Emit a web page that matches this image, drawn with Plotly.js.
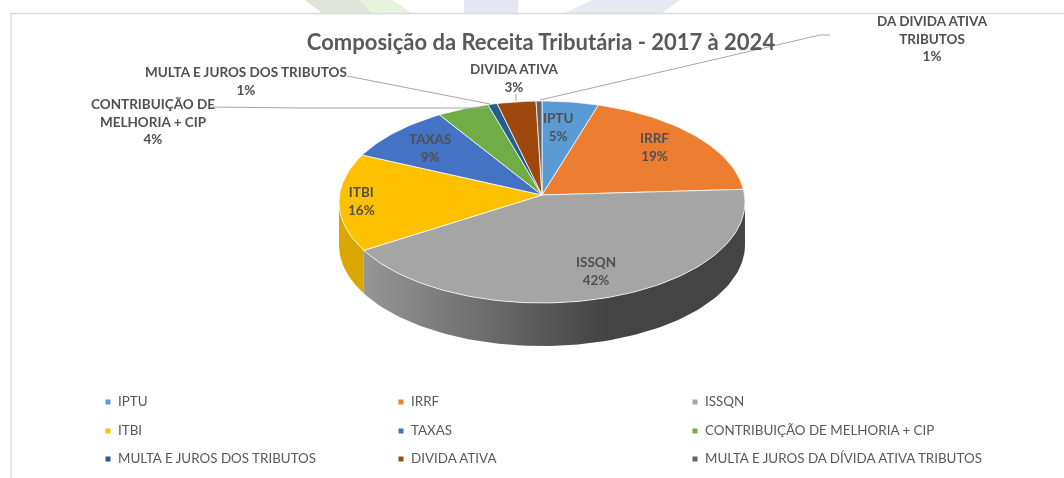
<!DOCTYPE html>
<html>
<head>
<meta charset="utf-8">
<script src="https://cdn.plot.ly/plotly-3.0.1.min.js"></script>
<style>
html,body{margin:0;padding:0;background:#fff;overflow:hidden}
#chart{width:1064px;height:478px;filter:blur(0.45px)}
</style>
</head>
<body>
<div id="chart"></div>
<script>
// ---- data ----
const categories = ["IPTU","IRRF","ISSQN","ITBI","TAXAS","CONTRIBUIÇÃO DE MELHORIA + CIP","MULTA E JUROS DOS TRIBUTOS","DIVIDA ATIVA","MULTA E JUROS DA DÍVIDA ATIVA TRIBUTOS"];
const values = [4.8,19.3,42.0,15.6,9.3,4.4,0.8,3.3,0.5];
const percentLabels = ["5%","19%","42%","16%","9%","4%","1%","3%","1%"];
const labelNames = ["IPTU","IRRF","ISSQN","ITBI","TAXAS","CONTRIBUIÇÃO DE<br>MELHORIA + CIP","MULTA E JUROS DOS TRIBUTOS","DIVIDA ATIVA","DA DIVIDA ATIVA<br>TRIBUTOS"];
const colors = ["#5b9bd5","#ed7d31","#a5a5a5","#ffc000","#4472c4","#70ad47","#255e91","#9e480e","#636363"];
const wallColors = {2:[[0,"#969696"],[0.63,"#444444"],[1,"#444444"]],3:[[0,"#dca600"],[1,"#dca600"]]};

// ---- page geometry (axes are in picture pixels) ----
const labelAt = [[558,127],[654,147],[596,271],[361,201],[430,148],[153,121],[246,81],[514,78],[932,38]];
const legendCols = [107,400,694], legendRows = [403,432,460];
const cx=542, cy=195, R=202.5, A=100.5, k=0.0693, depth=43;
const grey="#595959";

// projects a point on the tilted disc, angle clockwise from 12 o'clock
function project(deg, dy){
  const t=deg*Math.PI/180, u=Math.sin(t), v=Math.cos(t), s=1/(1+k*v);
  return [cx+R*u*s, cy-A*v*s+(dy||0)];
}
function arc(a,b){ const p=[], n=Math.max(2,Math.ceil(Math.abs(b-a)/1.5));
  for(let i=0;i<=n;i++) p.push(a+(b-a)*i/n); return p; }

const total = values.reduce((a,b)=>a+b,0);
let run=0;
const slices = values.map(v=>{const s=run/total*360; run+=v; return [s,run/total*360];});

const traces=[];
// side walls, only the part facing the viewer
const frontStart=94, frontEnd=266;
slices.forEach(([a,b],i)=>{
  const s=Math.max(a,frontStart), e=Math.min(b,frontEnd);
  if(e<=s) return;
  const top=arc(s,e).map(d=>project(d,0)), bot=arc(e,s).map(d=>project(d,depth));
  const pts=top.concat(bot); pts.push(pts[0]);
  const t={type:"scatter",mode:"lines",x:pts.map(p=>p[0]),y:pts.map(p=>p[1]),fill:"toself",
    line:{width:0,color:colors[i]},hoverinfo:"skip",showlegend:false,fillcolor:colors[i]};
  if(wallColors[i]) t.fillgradient={type:"horizontal",colorscale:wallColors[i]};
  traces.push(t);
});
// top faces
slices.forEach(([a,b],i)=>{
  const pts=[[cx,cy]].concat(arc(a,b).map(d=>project(d,0))); pts.push([cx,cy]);
  traces.push({type:"scatter",mode:"lines",x:pts.map(p=>p[0]),y:pts.map(p=>p[1]),fill:"toself",
    fillcolor:colors[i],line:{width:1,color:"rgba(255,255,255,0.75)"},name:categories[i],
    text:percentLabels[i],hoverinfo:"name+text",showlegend:false});
});
// leader lines
const leaderColor="#a6a6a6";
[[6,[[347,76],[490,104]]],[5,[[213,107],[300,108],[488,108]]],[7,[[516,94],[516,101]]],[8,[[830,35],[820,35],[540,100]]]].forEach(([i,l])=>{
  traces.push({type:"scatter",mode:"lines",x:l.map(p=>p[0]),y:l.map(p=>p[1]),line:{width:1,color:leaderColor},hoverinfo:"skip",showlegend:false});
});
// legend swatches and texts
traces.push({type:"scatter",mode:"markers",
  x:categories.map((_,i)=>legendCols[i%3]+1),y:categories.map((_,i)=>legendRows[Math.floor(i/3)]-1),
  marker:{symbol:"square",size:5,color:colors},
  hoverinfo:"skip",showlegend:false});
traces.push({type:"scatter",mode:"text",
  x:categories.map((_,i)=>legendCols[i%3]+11),y:categories.map((_,i)=>legendRows[Math.floor(i/3)]),
  text:categories,textposition:"middle right",
  textfont:{family:"Lato, Carlito, sans-serif",size:13.4,color:grey},
  hoverinfo:"skip",showlegend:false});

const annotations = categories.map((_,i)=>({
  x:labelAt[i][0],y:labelAt[i][1],xref:"x",yref:"y",showarrow:false,
  text:"<b>"+labelNames[i]+"<br>"+percentLabels[i]+"</b>",align:"center",xanchor:"center",yanchor:"middle",
  font:{family:"Lato, Carlito, sans-serif",size:13.5,color:"#505050"}
}));

const decor=(path,c)=>({type:"path",path,fillcolor:c,line:{width:0},layer:"below",xref:"x",yref:"y"});
const layout={
  width:1064,height:478,margin:{l:0,r:0,t:0,b:0},
  paper_bgcolor:"#fff",plot_bgcolor:"#fff",showlegend:false,
  title:{text:"<b>Composição da Receita Tributária - 2017 à 2024</b>",x:541/1064,xanchor:"center",y:1-42/478,yanchor:"middle",
    font:{family:"Lato, Carlito, sans-serif",size:22,color:grey}},
  xaxis:{range:[0,1064],visible:false,fixedrange:true},
  yaxis:{range:[478,0],visible:false,fixedrange:true},
  annotations,
  shapes:[
    decor("M305,0 L360,0 L372,13 L322,13 Z","#dfe5da"),
    decor("M360,0 L392,0 L412,13 L372,13 Z","#e8f3df"),
    decor("M464,0 L518,0 L518,13 L464,13 Z","#e4e6f2"),
    decor("M592,0 L680,0 L662,13 L565,13 Z","#e6e8f2"),
    {type:"line",x0:10,x1:1064,y0:13.5,y1:13.5,line:{color:"#d9d9d9",width:1.5},layer:"below"},
    {type:"line",x0:11,x1:11,y0:13,y1:478,line:{color:"#e0e0e0",width:1.5},layer:"below"}
  ]
};
Plotly.newPlot("chart",traces,layout,{displayModeBar:false,staticPlot:true});
</script>
</body>
</html>
